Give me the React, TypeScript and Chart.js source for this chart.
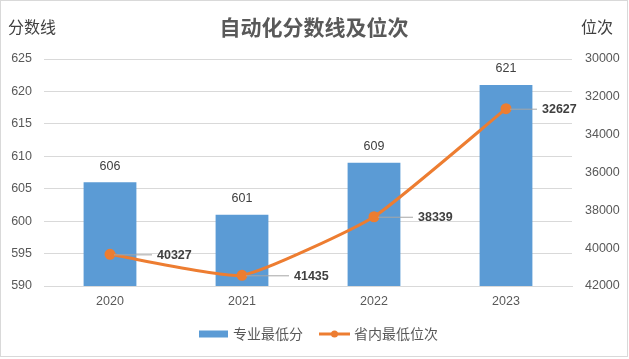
import React, { useEffect, useRef } from "react";
import { Chart, registerables } from "chart.js";

Chart.register(...registerables);

const years = ["2020", "2021", "2022", "2023"];
const minScores = [606, 601, 609, 621];
const minRanks = [40327, 41435, 38339, 32627];
const scoreAxis = { min: 590, max: 625, step: 5 };
const rankAxis = { min: 30000, max: 42000, step: 2000 };
const titleText = "自动化分数线及位次";
const leftAxisTitle = "分数线";
const rightAxisTitle = "位次";
const barName = "专业最低分";
const lineName = "省内最低位次";

const FONT = '"Liberation Sans", "Noto Sans CJK SC", sans-serif';
const CJK = '"Noto Sans CJK SC", sans-serif';
const BLUE = "#5B9BD5";
const ORANGE = "#ED7D31";
const TEXT = "#595959";
const DARK = "#404040";
const GRID = "#D9D9D9";
const LEADER_END = [42, 47, 39, 31];

const decorPlugin = {
  id: "decor",
  beforeDraw(chart: any) {
    const ctx = chart.ctx;
    ctx.save();
    ctx.fillStyle = "#ffffff";
    ctx.fillRect(0, 0, chart.width, chart.height);
    ctx.restore();
  },
  afterDatasetsDraw(chart: any) {
    const ctx = chart.ctx;
    ctx.save();
    const barMeta = chart.getDatasetMeta(0);
    ctx.font = `12.5px ${FONT}`;
    ctx.fillStyle = DARK;
    ctx.textAlign = "center";
    ctx.textBaseline = "middle";
    barMeta.data.forEach((el: any, i: number) => {
      ctx.fillText(String(minScores[i]), el.x, el.y - 16);
    });
    const lineMeta = chart.getDatasetMeta(1);
    ctx.font = `bold 12.5px ${FONT}`;
    ctx.textAlign = "left";
    lineMeta.data.forEach((el: any, i: number) => {
      const end = LEADER_END[i];
      ctx.strokeStyle = "#A6A6A6";
      ctx.lineWidth = 1;
      ctx.beginPath();
      ctx.moveTo(el.x + 4, el.y + 0.5);
      ctx.lineTo(el.x + end, el.y + 0.5);
      ctx.stroke();
      ctx.fillStyle = DARK;
      ctx.fillText(String(minRanks[i]), el.x + end + 5, el.y + 1);
    });
    ctx.restore();
  },
  afterDraw(chart: any) {
    const ctx = chart.ctx;
    ctx.save();
    ctx.textBaseline = "middle";
    ctx.font = `bold 21px ${CJK}`;
    ctx.fillStyle = TEXT;
    ctx.textAlign = "center";
    ctx.fillText(titleText, 314, 27);
    ctx.font = `16px ${CJK}`;
    ctx.fillStyle = DARK;
    ctx.textAlign = "left";
    ctx.fillText(leftAxisTitle, 8, 27);
    ctx.fillText(rightAxisTitle, 581, 27);
    const ly = 334;
    ctx.fillStyle = BLUE;
    ctx.fillRect(199, ly - 3.5, 29, 7);
    ctx.font = `14px ${CJK}`;
    ctx.fillStyle = TEXT;
    ctx.fillText(barName, 233, ly);
    ctx.strokeStyle = ORANGE;
    ctx.lineWidth = 3;
    ctx.beginPath();
    ctx.moveTo(319, ly);
    ctx.lineTo(350, ly);
    ctx.stroke();
    ctx.fillStyle = ORANGE;
    ctx.beginPath();
    ctx.arc(334.5, ly, 3.5, 0, Math.PI * 2);
    ctx.fill();
    ctx.fillStyle = TEXT;
    ctx.fillText(lineName, 354, ly);
    ctx.strokeStyle = GRID;
    ctx.lineWidth = 1;
    ctx.strokeRect(0.5, 0.5, chart.width - 2, chart.height - 3);
    ctx.restore();
  },
};

export default function App() {
  const ref = useRef<HTMLCanvasElement | null>(null);
  useEffect(() => {
    if (!ref.current) return;
    const chart = new Chart(ref.current, {
      type: "bar",
      data: {
        labels: years,
        datasets: [
          {
            type: "bar",
            label: barName,
            data: minScores,
            backgroundColor: BLUE,
            yAxisID: "y",
            barPercentage: 0.4,
            categoryPercentage: 1,
            order: 1,
          },
          {
            type: "line",
            label: lineName,
            data: minRanks,
            borderColor: ORANGE,
            backgroundColor: ORANGE,
            borderWidth: 3,
            pointRadius: 4,
            pointBackgroundColor: ORANGE,
            pointBorderColor: ORANGE,
            tension: 0.15,
            yAxisID: "y1",
            order: 0,
          },
        ],
      } as any,
      options: {
        animation: false,
        responsive: false,
        maintainAspectRatio: false,
        layout: { padding: { top: 59, bottom: 43, left: 0, right: 0 } },
        plugins: {
          legend: { display: false },
          title: { display: false },
          tooltip: { enabled: false },
        },
        scales: {
          x: {
            offset: true,
            grid: { display: false, drawTicks: false },
            border: { display: true, color: GRID },
            ticks: { color: TEXT, font: { size: 12.5, family: FONT }, padding: 8 },
            afterFit: (s: any) => { s.height = 30; },
          },
          y: {
            position: "left",
            min: scoreAxis.min,
            max: scoreAxis.max,
            ticks: { stepSize: scoreAxis.step, color: TEXT, font: { size: 12.5, family: FONT }, padding: 12 },
            grid: { color: GRID, drawTicks: false },
            border: { display: false },
            afterFit: (s: any) => { s.width = 44; },
          },
          y1: {
            position: "right",
            reverse: true,
            min: rankAxis.min,
            max: rankAxis.max,
            ticks: {
              stepSize: rankAxis.step,
              color: TEXT,
              font: { size: 12.5, family: FONT },
              padding: 13,
              callback: (v: any) => String(v),
            },
            grid: { display: false, drawTicks: false },
            border: { display: false },
            afterFit: (s: any) => { s.width = 57; },
          },
        },
      } as any,
      plugins: [decorPlugin],
    });
    return () => chart.destroy();
  }, []);
  return (
    <div style={{ position: "absolute", left: 0, top: 0, width: 629, height: 359 }}>
      <canvas ref={ref} width={629} height={359} style={{ display: "block" }} />
    </div>
  );
}
